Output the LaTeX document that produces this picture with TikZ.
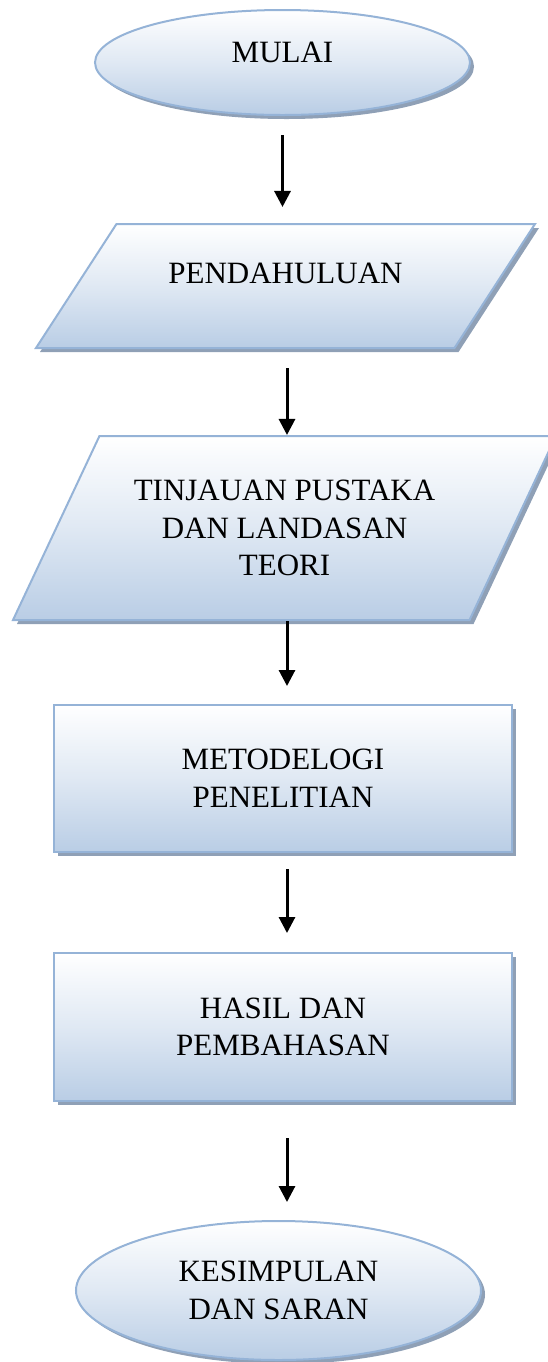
\documentclass[tikz,border=0pt]{standalone}
\usepackage{fontspec}
\setmainfont{Liberation Serif}
\usepackage{tikz}
\usetikzlibrary{shapes.geometric,arrows.meta,shadows}
\definecolor{edgeblue}{RGB}{149,179,215}
\definecolor{fillblue}{RGB}{185,205,229}
\definecolor{shadowgray}{RGB}{143,160,182}

\begin{document}
\begin{tikzpicture}[x=0.5pt,y=-0.5pt,
    chart/.style={draw=edgeblue,line width=1pt,top color=white,bottom color=fillblue,middle color=fillblue!45!white,
      align=center,inner sep=0pt,font=\fontsize{15.5}{18.8}\selectfont,
      drop shadow={shadow xshift=2pt,shadow yshift=-2pt,fill=shadowgray,opacity=1}},
    terminal/.style={chart,ellipse},
    io/.style={chart,trapezium,trapezium stretches body},
    process/.style={chart,rectangle},
    flow/.style={-{Triangle[width=8pt,length=8pt]},line width=1.5pt}]
  \useasboundingbox (0,0) rectangle (547,1362);
        \node[terminal,minimum width=187.5pt,minimum height=52.5pt,text depth=10pt] (mulai) at (282.5,62.5) {MULAI};
        \node[io,trapezium left angle=30,trapezium right angle=150,minimum width=249.5pt,minimum height=62pt,text depth=13pt] (pend) at (285.5,286) {PENDAHULUAN};
        \node[io,trapezium left angle=48,trapezium right angle=132,minimum width=271.5pt,minimum height=92pt] (tinj) at (284.5,528) {TINJAUAN PUSTAKA\\DAN LANDASAN\\TEORI};
        \node[process,minimum width=229pt,minimum height=73.5pt] (metode) at (283,778.5) {METODELOGI\\PENELITIAN};
        \node[process,minimum width=229pt,minimum height=74pt] (hasil) at (283,1027) {HASIL DAN\\PEMBAHASAN};
        \node[terminal,minimum width=202.5pt,minimum height=69.5pt] (simpul) at (278.5,1290.5) {KESIMPULAN\\DAN SARAN};
  \coordinate (lane) at (287,0);
            \draw[flow,shorten <=9.5pt,shorten >=8pt] (mulai.south) -- (mulai.south |- pend.north);
            \draw[flow,shorten <=9.5pt] (pend.south -| lane) -- (tinj.north -| lane);
            \draw[flow,shorten >=9pt] (tinj.south -| lane) -- (metode.north -| lane);
            \draw[flow,shorten <=8pt,shorten >=9.5pt] (metode.south -| lane) -- (hasil.north -| lane);
            \draw[flow,shorten <=18pt,shorten >=9pt] (hasil.south -| lane) -- (simpul.north -| lane);
\end{tikzpicture}
\end{document}
